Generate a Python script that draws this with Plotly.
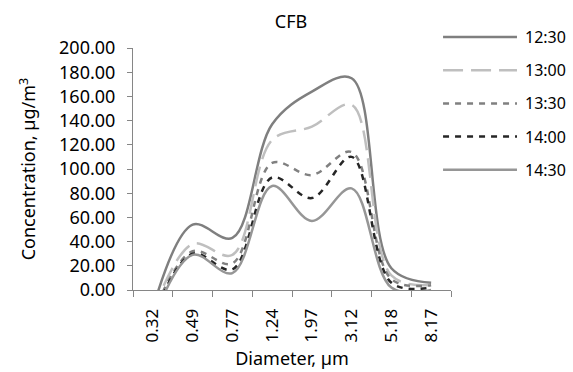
import plotly.graph_objects as go

categories = ["0.32", "0.49", "0.77", "1.24", "1.97", "3.12", "5.18", "8.17"]
series_names = ["12:30", "13:00", "13:30", "14:00", "14:30"]
s1230 = [-15, 54, 43, 137, 164, 175, 18, 6]
s1300 = [-18, 38, 29, 124, 135, 153, 12, 4]
s1330 = [-20, 32, 22, 105, 95, 114, 9, 4]
s1400 = [-22, 30, 17, 93, 76, 110, 6, 2]
s1430 = [-25, 29, 14, 86, 57, 84, 2, 0]
y_ticks = [0, 20, 40, 60, 80, 100, 120, 140, 160, 180, 200]

values = [s1230, s1300, s1330, s1400, s1430]
colors = ["#7f7f7f", "#bfbfbf", "#808080", "#262626", "#969696"]
dashes = ["solid", "20px,8px", "6px,6px", "6px,6px", "solid"]
widths = [2.5, 2.5, 2.5, 2.5, 2.5]

FONT = "Noto Sans"
fig = go.Figure()
for name, vals, c, d, w in zip(series_names, values, colors, dashes, widths):
    fig.add_trace(go.Scatter(
        x=categories, y=vals, mode="lines", name=name,
        line=dict(color=c, dash=d, width=w, shape="spline", smoothing=1.0),
        showlegend=False,
    ))

# custom legend keys (long line samples as in the reference)
leg_x0, leg_x1, leg_tx = 0.975, 1.2075, 1.226
leg_y0, leg_step = 1.045, 0.137
for i, (name, c, d, w) in enumerate(zip(series_names, colors, dashes, widths)):
    yy = leg_y0 - i * leg_step
    fig.add_shape(type="line", xref="paper", yref="paper",
                  x0=leg_x0, x1=leg_x1, y0=yy, y1=yy,
                  line=dict(color=c, dash=d, width=w))
    fig.add_annotation(xref="paper", yref="paper", x=leg_tx, y=yy,
                       text=name, showarrow=False, xanchor="left",
                       yanchor="middle", font=dict(family=FONT, size=16, color="#000"))

fig.update_layout(
    width=573, height=372,
    margin=dict(l=133, r=122, t=48, b=82),
    paper_bgcolor="white", plot_bgcolor="white",
    title=dict(text="CFB", x=0.508, xanchor="center", y=0.943, yanchor="middle",
               font=dict(family=FONT, size=18, color="#000")),
    font=dict(family=FONT, size=16, color="#000"),
)
fig.update_xaxes(
    type="category", range=[-0.5, 7.5], automargin=False,
    showline=True, linecolor="#868686", linewidth=1,
    ticks="outside", tickson="boundaries", ticklen=6, tickcolor="#868686",
    tickangle=-90, showgrid=False, zeroline=False, ticklabelstandoff=11,
    tickfont=dict(family=FONT, size=17),
    title=dict(text="Diameter, µm", font=dict(family=FONT, size=18), standoff=10),
)
fig.update_yaxes(
    range=[0, 200], tickvals=y_ticks, ticktext=[f"{v:.2f}" for v in y_ticks],
    automargin=False,
    showline=True, linecolor="#868686", linewidth=1,
    ticks="outside", ticklen=5, tickcolor="#868686", ticklabelstandoff=8,
    showgrid=False, zeroline=False,
    tickfont=dict(family=FONT, size=18),
    title=dict(text="Concentration, µg/m<sup>3</sup>", font=dict(family=FONT, size=18), standoff=18),
)

fig.write_html("out.html")
